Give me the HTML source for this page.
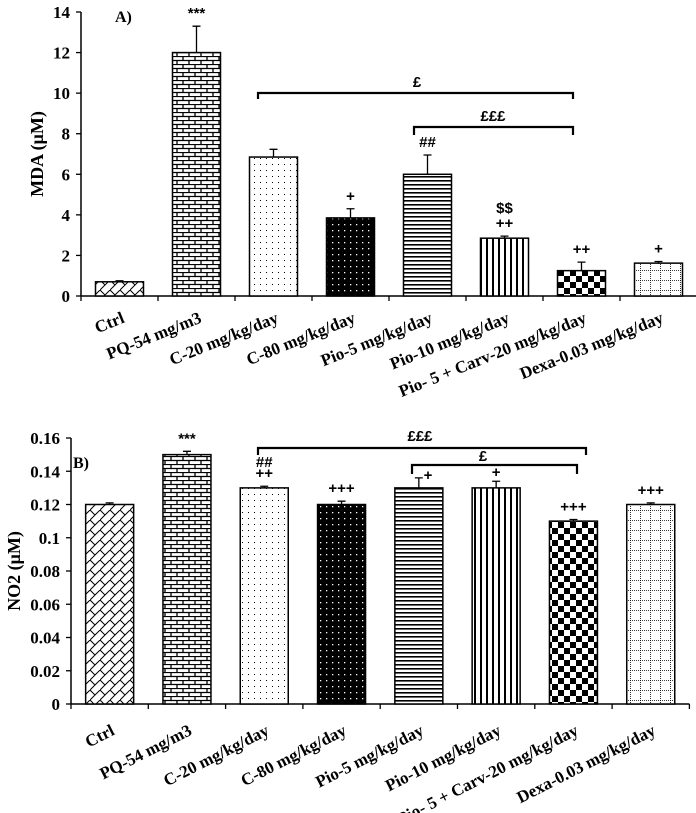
<!DOCTYPE html>
<html><head><meta charset="utf-8"><style>
body{margin:0;background:#fff}
svg{display:block;font-family:"Liberation Serif",serif;font-weight:bold}
</style></head><body>
<svg id="s" width="696" height="813" viewBox="0 0 696 813" xmlns="http://www.w3.org/2000/svg">
<defs>
<pattern id="p0" width="10" height="10" patternUnits="userSpaceOnUse"><rect width="10" height="10" fill="#fff"/><path d="M0 10L10 0M0 0L5 5" stroke="#000" stroke-width="1"/></pattern>
<pattern id="p1" width="12" height="8" patternUnits="userSpaceOnUse"><rect width="12" height="8" fill="#fff"/><path d="M0 0.5H12M0 4.5H12M3 0V4M9 4V8" stroke="#000" stroke-width="1.3"/></pattern>
<pattern id="p2" width="6" height="6" patternUnits="userSpaceOnUse"><rect width="6" height="6" fill="#fff"/><rect x="2" y="2" width="1" height="1" fill="#000"/></pattern>
<pattern id="p3" width="6" height="6" patternUnits="userSpaceOnUse"><rect width="6" height="6" fill="#000"/><rect x="2" y="2" width="1.3" height="1.3" fill="#fff"/></pattern>
<pattern id="p4" width="4" height="4" patternUnits="userSpaceOnUse"><rect width="4" height="4" fill="#fff"/><rect y="0" width="4" height="1.6" fill="#000"/></pattern>
<pattern id="p5" width="6" height="4" patternUnits="userSpaceOnUse"><rect width="6" height="4" fill="#fff"/><rect width="2" height="4" fill="#000"/></pattern>
<pattern id="p6" width="12" height="12" patternUnits="userSpaceOnUse"><rect width="12" height="12" fill="#fff"/><rect width="6" height="6" fill="#000"/><rect x="6" y="6" width="6" height="6" fill="#000"/></pattern>
<pattern id="p7" width="10" height="10" patternUnits="userSpaceOnUse"><rect width="10" height="10" fill="#fff"/><path d="M0 0.5H10M0.5 0V10" stroke="#000" stroke-width="0.8" stroke-dasharray="1,1"/></pattern>
</defs>
<g id="gA"></g>
<g id="gB"></g>
</svg>
<script>
const categories=["Ctrl","PQ-54 mg/m3","C-20 mg/kg/day","C-80 mg/kg/day","Pio-5 mg/kg/day","Pio-10 mg/kg/day","Pio- 5 + Carv-20  mg/kg/day","Dexa-0.03 mg/kg/day"];
const mdaValues=[0.7,12.0,6.85,3.85,6.0,2.85,1.25,1.62];
const mdaErrors=[0.05,1.3,0.38,0.45,0.95,0.1,0.42,0.08];
const mdaMarks=["","***","","+","##","++","++","+"];
const mdaTicks=[0,2,4,6,8,10,12,14];
const no2Values=[0.12,0.15,0.13,0.12,0.13,0.13,0.11,0.12];
const no2Errors=[0.001,0.002,0.001,0.002,0.006,0.004,0.001,0.001];
const no2Marks=["","***","++","+++","","","+++","+++"];
const no2Ticks=["0","0.02","0.04","0.06","0.08","0.1","0.12","0.14","0.16"];
const NS="http://www.w3.org/2000/svg";
function mk(p,t,a,txt){const e=document.createElementNS(NS,t);for(const k in a)e.setAttribute(k,a[k]);if(txt!=null)e.textContent=txt;p.appendChild(e);return e;}
function chart(g,o){
  const y=v=>o.y0-(v-o.min)/(o.max-o.min)*(o.y0-o.yTop);
  const cw=o.cw, cx=i=>o.x0+cw*(i+0.5);
  const ax=mk(g,'line',{x1:o.x0,y1:o.yTop,x2:o.x0,y2:o.y0,stroke:'#000','stroke-width':1.5});
  
  const xa=mk(g,'line',{x1:o.x0,y1:o.y0,x2:o.x0+cw*8,y2:o.y0,stroke:'#000','stroke-width':1.5});
  
  o.ticks.forEach(t=>{const v=parseFloat(t);const yy=y(v);
    mk(g,'line',{x1:o.x0-5,y1:yy,x2:o.x0,y2:yy,stroke:'#000','stroke-width':1.3});
    const tl=mk(g,'text',{x:o.x0-11,y:yy+6,'text-anchor':'end','font-size':17},String(t));
    });
  for(let i=0;i<=8;i++)mk(g,'line',{x1:o.x0+cw*i,y1:o.y0,x2:o.x0+cw*i,y2:o.y0+5,stroke:'#000','stroke-width':1.3});
  o.vals.forEach((v,i)=>{
    const b=mk(g,'rect',{x:cx(i)-24,y:y(v),width:48,height:o.y0-y(v),fill:'url(#p'+i+')',stroke:'#000','stroke-width':1.5});
    
    const et=y(v+o.errs[i]);
    mk(g,'path',{d:`M${cx(i)} ${y(v)}V${et}M${cx(i)-4} ${et}H${cx(i)+4}`,stroke:'#000','stroke-width':1.3,fill:'none'});
    if(o.marks[i]){const m=mk(g,'text',{x:cx(i),y:et-8,'text-anchor':'middle','font-size':15,'font-family':'Liberation Sans'},o.marks[i]);
      }
    const l=mk(g,'text',{x:0,y:0,'text-anchor':'end','font-size':17,transform:`translate(${cx(i)+o.lx},${o.y0+o.ly}) rotate(${o.rot})`},categories[i]);
    
  });
  return {y,cx};
}
const gA=document.getElementById('gA'),gB=document.getElementById('gB');
const A=chart(gA,{x0:81,cw:77,y0:296,yTop:12,min:0,max:14,ticks:mdaTicks,vals:mdaValues,errs:mdaErrors,marks:mdaMarks,lx:6,ly:26,rot:-22});
const B=chart(gB,{x0:71,cw:77.3,y0:704,yTop:438,min:0,max:0.16,ticks:no2Ticks,vals:no2Values,errs:no2Errors,marks:no2Marks,lx:6,ly:30,rot:-27});
function T(g,x,y,s,t,name,extra){const e=mk(g,'text',Object.assign({x,y,'font-size':s},extra||{}),t);return e;}
function br(g,x1,x2,yy,d,name){const p=mk(g,'path',{d:`M${x1} ${yy+d}V${yy}H${x2}V${yy+d}`,stroke:'#000','stroke-width':2.2,fill:'none'});}
T(gA,115,22,16,'A)','panel-label-a');
T(gA,0,0,18,'MDA (μM)','y-axis-title',{transform:'translate(43,154) rotate(-90)','text-anchor':'middle'});
br(gA,258,573,93,6,'bracket-pound-1');T(gA,417,87,15,'£','bracket-label',{'text-anchor':'middle','font-family':'Liberation Sans'});
br(gA,414,573,127,8,'bracket-pound-3');T(gA,493,121,15,'£££','bracket-label',{'text-anchor':'middle','font-family':'Liberation Sans'});
T(gA,N=A.cx(5),213,15,'$$','significance-mark',{'text-anchor':'middle','font-family':'Liberation Sans'});
T(gB,73,468,16,'B)','panel-label-b');
T(gB,0,0,18,'NO2 (μM)','y-axis-title',{transform:'translate(20,571) rotate(-90)','text-anchor':'middle'});
br(gB,258,586,448,7,'bracket-pound-3');T(gB,420,441,15,'£££','bracket-label',{'text-anchor':'middle','font-family':'Liberation Sans'});
br(gB,412,577,465,9,'bracket-pound-1');T(gB,483,461,15,'£','bracket-label',{'text-anchor':'middle','font-family':'Liberation Sans'});
T(gB,B.cx(2),467,15,'##','significance-mark',{'text-anchor':'middle','font-family':'Liberation Sans'});
T(gB,428,480,15,'+','significance-mark',{'text-anchor':'middle','font-family':'Liberation Sans'});
T(gB,B.cx(5),477,15,'+','significance-mark',{'text-anchor':'middle','font-family':'Liberation Sans'});
</script>
</body></html>
